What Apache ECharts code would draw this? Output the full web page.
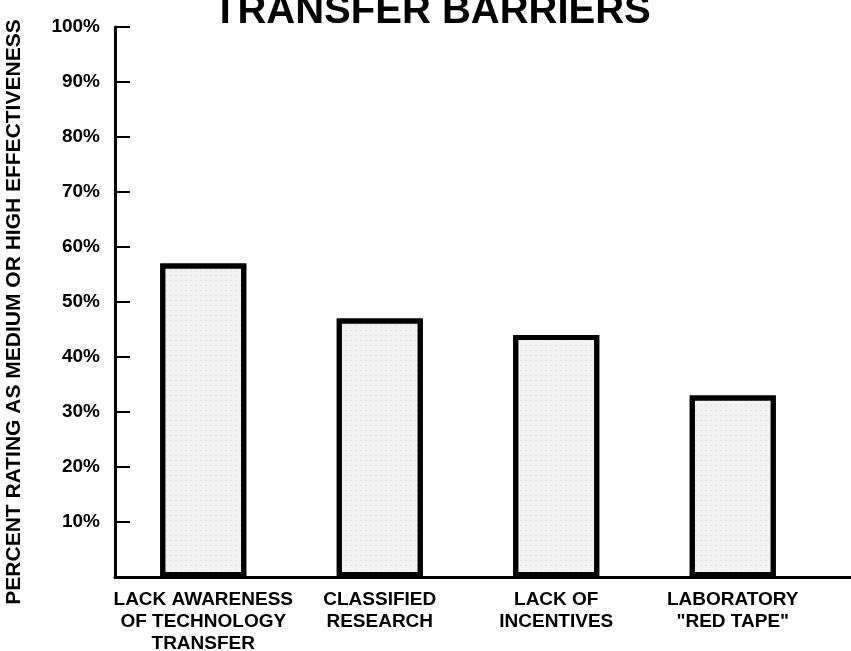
<!DOCTYPE html>
<html>
<head>
<meta charset="utf-8">
<script src="https://cdn.jsdelivr.net/npm/echarts@6/dist/echarts.min.js"></script>
<style>html,body{margin:0;padding:0;background:#fff;}#chart{width:851px;height:651px;}</style>
</head>
<body>
<div id="chart"></div>
<script>
const titleText = 'TRANSFER BARRIERS';
const yAxisName = 'PERCENT RATING AS MEDIUM OR HIGH EFFECTIVENESS';
const categories = ['LACK AWARENESS\nOF TECHNOLOGY\nTRANSFER', 'CLASSIFIED\nRESEARCH', 'LACK OF\nINCENTIVES', 'LABORATORY\n"RED TAPE"'];
const values = [57, 47, 44, 33];
const yTicks = [10, 20, 30, 40, 50, 60, 70, 80, 90, 100];

const FONT = '"Liberation Sans", Arial, Helvetica, sans-serif';
const chart = echarts.init(document.getElementById('chart'), null, {renderer: 'canvas'});
const GRID_RIGHT = 30;
const option = {
  backgroundColor: '#ffffff',
  animation: false,
  title: {
    text: titleText,
    left: 208,
    top: -13,
    textStyle: {fontFamily: FONT, fontWeight: 'bold', fontSize: 40, color: '#000'}
  },
  grid: {left: 115, right: GRID_RIGHT, top: 27, bottom: 74, containLabel: false, outerBoundsMode: 'none'},
  xAxis: {
    type: 'category',
    data: categories,
    axisLine: {show: true, lineStyle: {color: '#000', width: 3}},
    axisTick: {show: false},
    axisLabel: {
      interval: 0, margin: 12, color: '#000', fontFamily: FONT, fontWeight: 'bold',
      fontSize: 19, lineHeight: 22
    },
    splitLine: {show: false}
  },
  yAxis: {
    type: 'value',
    min: 0, max: 100, interval: 10,
    name: yAxisName,
    nameLocation: 'middle',
    nameRotate: 90,
    nameGap: 90,
    nameTextStyle: {fontFamily: FONT, fontWeight: 'bold', fontSize: 21, color: '#000', padding: [0, 20, 0, 0]},
    axisLine: {show: true, lineStyle: {color: '#000', width: 3}},
    axisTick: {show: true, inside: true, length: 15, lineStyle: {color: '#000', width: 2}},
    axisLabel: {
      margin: 15, color: '#000', fontFamily: FONT, fontWeight: 'bold', fontSize: 19,
      formatter: v => (yTicks.indexOf(v) >= 0 ? v + '%' : '')
    },
    splitLine: {show: false}
  },
  series: [{
    type: 'bar',
    data: values,
    barWidth: 86,
    itemStyle: {
      color: '#f1f1f1',
      borderColor: '#000',
      borderWidth: 5,
      decal: {
        symbol: 'rect',
        symbolSize: 0.5,
        color: 'rgba(0,0,0,0.22)',
        dashArrayX: [2, 3],
        dashArrayY: [1, 4],
        rotation: 0
      }
    }
  }]
};
chart.setOption(option);
// extend the x-axis line to the right edge like the original
const y0 = Math.round(chart.convertToPixel({yAxisIndex: 0}, 0)) + 0.5;
const xEnd = chart.getWidth() - GRID_RIGHT;
chart.setOption({
  graphic: [{
    type: 'line',
    silent: true,
    shape: {x1: xEnd - 30, y1: y0, x2: chart.getWidth(), y2: y0},
    style: {stroke: '#000', lineWidth: 3}
  }]
});
</script>
</body>
</html>
